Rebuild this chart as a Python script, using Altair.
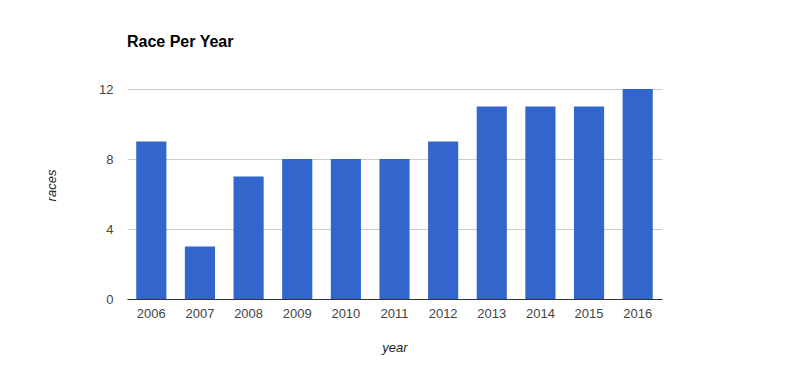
import altair as alt
import pandas as pd

years = ["2006", "2007", "2008", "2009", "2010", "2011", "2012", "2013", "2014", "2015", "2016"]
races = [9, 3, 7, 8, 8, 8, 9, 11, 11, 11, 12]
y_ticks = [0, 4, 8, 12]

df = pd.DataFrame({"year": years, "races": races})

FONT = "Liberation Sans"

chart = alt.Chart(df).mark_bar(color="#3366cc").encode(
    x=alt.X("year:N", sort=years,
            scale=alt.Scale(paddingInner=0.38, paddingOuter=0.19),
            axis=alt.Axis(title="year", labelAngle=0, ticks=False, labelPadding=8,
                          labelFont=FONT, labelFontSize=13, labelColor="#444444",
                          domainColor="#333333", domainWidth=1,
                          titleFont=FONT, titleFontSize=13, titleFontStyle="italic",
                          titleFontWeight="normal", titleColor="#222222",
                          titleBaseline="alphabetic", titleY=52, grid=False)),
    y=alt.Y("races:Q", scale=alt.Scale(domain=[0, 12], nice=False),
            axis=alt.Axis(title="races", values=y_ticks, ticks=False, domain=False,
                          labelPadding=14, labelFont=FONT, labelFontSize=13,
                          labelColor="#444444", gridColor="#cccccc", gridWidth=1,
                          titleFont=FONT, titleFontSize=13, titleFontStyle="italic",
                          titleFontWeight="normal", titleColor="#222222",
                          titleBaseline="alphabetic", titleX=-72, titleY=96, titleAngle=-90)),
).properties(
    width=535, height=210,
    title=alt.TitleParams("Race Per Year", anchor="start", font=FONT, fontSize=16,
                          fontWeight="bold", color="#000000", frame="group", offset=33),
    autosize=alt.AutoSizeParams(type="none"),
    padding={"left": 119, "top": 81, "right": 110, "bottom": 60},
).configure_view(stroke=None)

chart.save("out.html", embed_options={"renderer": "svg", "actions": False})
